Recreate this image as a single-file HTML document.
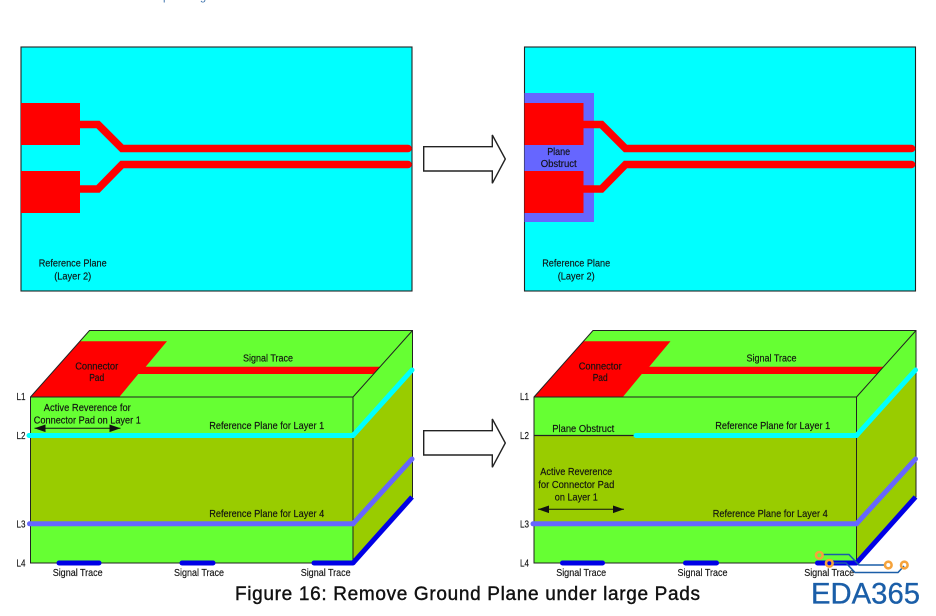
<!DOCTYPE html>
<html><head><meta charset="utf-8"><style>
html,body{margin:0;padding:0;background:#fff}
svg{display:block}
text{font-family:"Liberation Sans",sans-serif;font-size:10.4px;fill:#111;stroke:#111;stroke-width:.15px;text-anchor:middle;dominant-baseline:central;transform:translateY(.8px)}
</style></head><body>
<svg width="936" height="616" viewBox="0 0 936 616" xmlns="http://www.w3.org/2000/svg">
<defs>
<g id="board">
<rect x="21" y="47" width="391" height="244" fill="#00ffff" stroke="#222" stroke-width="1.1"/>
</g>
<g id="pads">
<rect x="21" y="103" width="59" height="42" fill="#f00"/>
<rect x="21" y="171" width="59" height="42" fill="#f00"/>
<polyline points="80,124.5 98,124.5 122,148.5 408,148.5" fill="none" stroke="#f00" stroke-width="7.6" stroke-linecap="round"/>
<polyline points="80,189 98,189 122,164.5 408,164.5" fill="none" stroke="#f00" stroke-width="7.6" stroke-linecap="round"/>
</g>
<path id="arrow" d="M423.7 146.7H492.3V135L505.3 159L492.3 183.3V171H423.7Z" fill="#fff" stroke="#222" stroke-width="1.4"/>
<g id="block">
<polygon points="30.5,397 89.5,330.5 412.5,330.5 353,397" fill="#66ff33"/>
<polygon points="353,397 412.5,330.5 412.5,497 353,563" fill="#99cc00"/>
<polygon points="353,397 412.5,330.5 412.5,370 353,435.5" fill="#66ff33"/>
<rect x="30.5" y="397" width="322.5" height="166" fill="#66ff33"/>
<rect x="30.5" y="435.5" width="322.5" height="88.5" fill="#99cc00"/>
<polygon points="30.5,397 80,341.3 167,341.3 145.7,366.7 380,366.7 373,374 138.3,374 119.3,397" fill="#f00"/>
<path d="M30.5 397L89.5 330.5H412.5V497L353 563H30.5Z M30.5 397H353V563 M353 397L412.5 330.5" fill="none" stroke="#222" stroke-width="1"/>
<polyline points="353,523.8 412,459" fill="none" stroke="#6666ff" stroke-width="5" stroke-linecap="round"/>
<line x1="29.5" y1="523.8" x2="353" y2="523.8" stroke="#6666ff" stroke-width="5" stroke-linecap="round"/>
<polyline points="353,563 412,497" fill="none" stroke="#0000e6" stroke-width="5"/>
<g stroke="#0000e6" stroke-width="5" stroke-linecap="round">
<line x1="59" y1="563" x2="99" y2="563"/>
<line x1="182" y1="563" x2="213" y2="563"/>
<line x1="314" y1="563" x2="353" y2="563"/>
</g>
<line x1="353" y1="435.5" x2="412" y2="370" stroke="#00ffff" stroke-width="5" stroke-linecap="round"/>
</g>
<g id="dbl">
<line x1="0" y1="0" x2="86" y2="0" stroke="#111" stroke-width="1"/>
<polygon points="0,0 11,-3.8 11,3.8" fill="#111"/>
<polygon points="86,0 75,-3.8 75,3.8" fill="#111"/>
</g>
<g id="labels">
<text x="96.7" y="366" textLength="43" lengthAdjust="spacingAndGlyphs">Connector</text>
<text x="96.7" y="377.5" textLength="15" lengthAdjust="spacingAndGlyphs">Pad</text>
<text x="268" y="358" textLength="50" lengthAdjust="spacingAndGlyphs">Signal Trace</text>
<text x="21" y="396.7" textLength="9" lengthAdjust="spacingAndGlyphs">L1</text>
<text x="21" y="435.5" textLength="9" lengthAdjust="spacingAndGlyphs">L2</text>
<text x="21" y="524" textLength="9" lengthAdjust="spacingAndGlyphs">L3</text>
<text x="21" y="563" textLength="9" lengthAdjust="spacingAndGlyphs">L4</text>
<text x="77.7" y="572.7" textLength="50" lengthAdjust="spacingAndGlyphs">Signal Trace</text>
<text x="199" y="572.7" textLength="50" lengthAdjust="spacingAndGlyphs">Signal Trace</text>
<text x="325.7" y="572.7" textLength="50" lengthAdjust="spacingAndGlyphs">Signal Trace</text>
<text x="266.7" y="513.7" textLength="115" lengthAdjust="spacingAndGlyphs">Reference Plane for Layer 4</text>
<text x="72.7" y="263" textLength="68" lengthAdjust="spacingAndGlyphs">Reference Plane</text>
<text x="72.7" y="276" textLength="37" lengthAdjust="spacingAndGlyphs">(Layer 2)</text>
</g>
</defs>

<!-- clipped heading descenders -->
<text x="166" y="-4" style="fill:#3f74ad;stroke:none;font-size:11px">p</text>
<text x="203" y="-4" style="fill:#3f74ad;stroke:none;font-size:11px">g</text>

<!-- top left -->
<use href="#board"/>
<use href="#pads"/>
<!-- top right -->
<use href="#board" x="503.5"/>
<rect x="524.5" y="93" width="69.5" height="129" fill="#6666ff"/>
<use href="#pads" x="503.5"/>
<text x="558.7" y="151.7" textLength="23" lengthAdjust="spacingAndGlyphs">Plane</text>
<text x="558.7" y="163.7" textLength="36" lengthAdjust="spacingAndGlyphs">Obstruct</text>

<use href="#arrow"/>
<use href="#arrow" y="284"/>

<!-- bottom left -->
<use href="#block"/>
<line x1="29" y1="435.5" x2="353" y2="435.5" stroke="#00ffff" stroke-width="5" stroke-linecap="round"/>
<use href="#labels"/>
<text x="87.3" y="407.5" textLength="87" lengthAdjust="spacingAndGlyphs">Active Reverence for</text>
<text x="87.3" y="420" textLength="107" lengthAdjust="spacingAndGlyphs">Connector Pad on Layer 1</text>
<use href="#dbl" x="34.5" y="428.3"/>
<text x="266.7" y="425.7" textLength="115" lengthAdjust="spacingAndGlyphs">Reference Plane for Layer 1</text>

<!-- bottom right -->
<use href="#block" x="503.5"/>
<line x1="533.5" y1="435.5" x2="635" y2="435.5" stroke="#222" stroke-width="1.2"/>
<line x1="636" y1="435.5" x2="856.5" y2="435.5" stroke="#00ffff" stroke-width="5" stroke-linecap="round"/>
<use href="#labels" x="503.5"/>
<text x="583.3" y="428.7" textLength="62" lengthAdjust="spacingAndGlyphs">Plane Obstruct</text>
<text x="772.7" y="425.7" textLength="115" lengthAdjust="spacingAndGlyphs">Reference Plane for Layer 1</text>
<text x="576.3" y="471.7" textLength="72" lengthAdjust="spacingAndGlyphs">Active Reverence</text>
<text x="576.3" y="484.7" textLength="76" lengthAdjust="spacingAndGlyphs">for Connector Pad</text>
<text x="576.3" y="497" textLength="43" lengthAdjust="spacingAndGlyphs">on Layer 1</text>
<use href="#dbl" x="538" y="509.3"/>

<!-- caption -->
<text x="467.5" y="594.5" textLength="465" lengthAdjust="spacing" style="font-size:19px;fill:#111;stroke:#111;stroke-width:.4px;transform:none">Figure 16: Remove Ground Plane under large Pads</text>

<!-- logo -->
<g fill="none" stroke="#1a5ea8" stroke-width="1.5">
<polyline points="823,554.5 849,554.5 859,565 884,565"/>
<polyline points="833,563 846,563 855,572.5 898,572.5 904,566"/>
</g>
<g fill="none" stroke="#f5a33c" stroke-width="2.6">
<circle cx="819.3" cy="555.3" r="3.3"/>
<circle cx="829.3" cy="563.3" r="3.3"/>
<circle cx="888.3" cy="565" r="3.3"/>
<circle cx="904.3" cy="565" r="3.3"/>
</g>
<circle cx="829.3" cy="563.3" r="1.4" fill="#0000e6"/>
<text x="865.5" y="594" textLength="109" lengthAdjust="spacingAndGlyphs" style="font-size:30px;fill:#1a5ea8;stroke:#1a5ea8;stroke-width:.3px;transform:none">EDA365</text>
</svg>
</body></html>
